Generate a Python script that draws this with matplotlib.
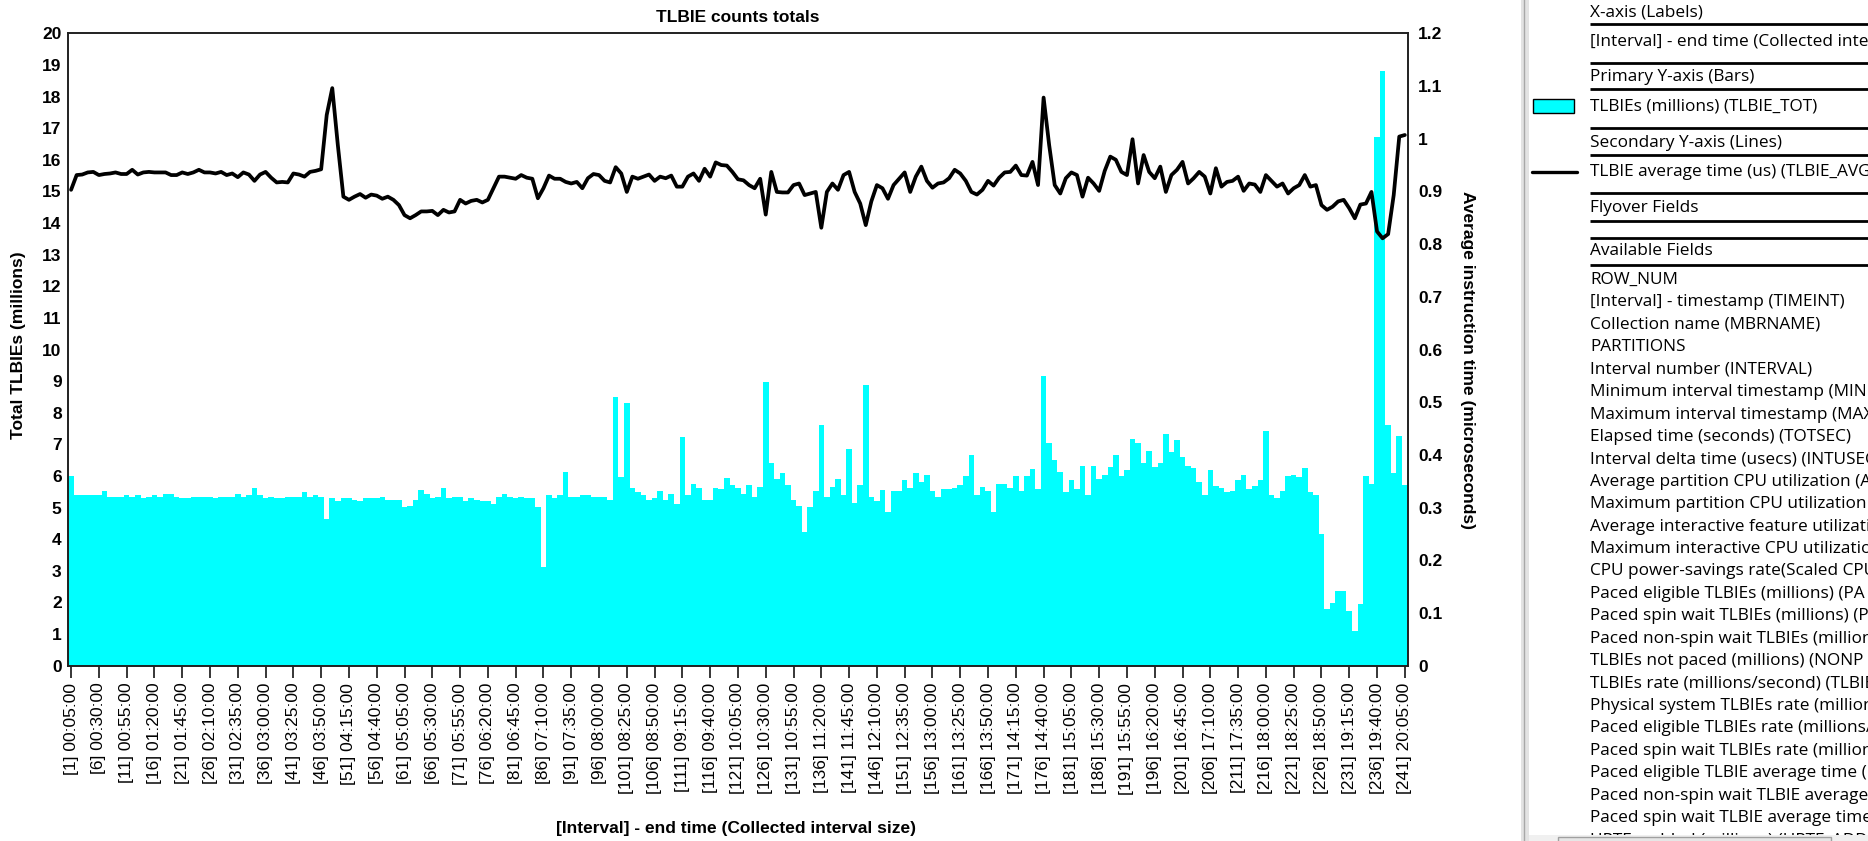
import numpy as np
import matplotlib
matplotlib.use("Agg")
import matplotlib.pyplot as plt
from matplotlib.patches import Rectangle

# ---------------- data ----------------
intervals = list(range(1, 242))

tlbie_tot = [
    6.00, 5.39, 5.39, 5.39, 5.39, 5.39, 5.52, 5.34, 5.34, 5.34,
    5.39, 5.34, 5.39, 5.29, 5.34, 5.39, 5.34, 5.43, 5.43, 5.34,
    5.29, 5.29, 5.34, 5.34, 5.34, 5.34, 5.29, 5.34, 5.34, 5.34,
    5.43, 5.34, 5.39, 5.62, 5.39, 5.29, 5.34, 5.29, 5.29, 5.34,
    5.34, 5.34, 5.48, 5.34, 5.39, 5.34, 4.64, 5.29, 5.20, 5.29,
    5.29, 5.24, 5.20, 5.29, 5.29, 5.29, 5.34, 5.24, 5.24, 5.24,
    5.03, 5.06, 5.24, 5.57, 5.43, 5.29, 5.34, 5.62, 5.29, 5.34,
    5.34, 5.20, 5.29, 5.24, 5.20, 5.20, 5.10, 5.34, 5.43, 5.34,
    5.29, 5.34, 5.29, 5.29, 5.02, 3.13, 5.39, 5.29, 5.39, 6.14,
    5.34, 5.34, 5.39, 5.39, 5.34, 5.34, 5.34, 5.25, 8.49, 5.96,
    8.30, 5.62, 5.48, 5.39, 5.25, 5.29, 5.52, 5.25, 5.43, 5.10,
    7.22, 5.39, 5.76, 5.62, 5.25, 5.25, 5.62, 5.58, 5.94, 5.70,
    5.62, 5.43, 5.70, 5.34, 5.66, 8.96, 6.42, 5.92, 6.08, 5.70,
    5.25, 5.06, 4.22, 5.02, 5.52, 7.60, 5.34, 5.66, 5.90, 5.39,
    6.84, 5.16, 5.70, 8.87, 5.34, 5.20, 5.57, 4.87, 5.52, 5.52,
    5.86, 5.62, 6.08, 5.80, 6.04, 5.52, 5.34, 5.58, 5.58, 5.62,
    5.70, 5.99, 6.65, 5.39, 5.66, 5.52, 4.87, 5.76, 5.76, 5.62,
    5.99, 5.52, 5.99, 6.22, 5.58, 9.15, 7.03, 6.52, 6.14, 5.48,
    5.86, 5.58, 6.33, 5.39, 6.33, 5.92, 6.04, 6.27, 6.65, 5.99,
    6.19, 7.18, 7.03, 6.42, 6.80, 6.28, 6.42, 7.33, 6.76, 7.13,
    6.61, 6.33, 6.24, 5.81, 5.39, 6.19, 5.67, 5.63, 5.48, 5.52,
    5.86, 6.04, 5.58, 5.67, 5.86, 7.41, 5.39, 5.30, 5.52, 5.99,
    6.04, 5.96, 6.24, 5.48, 5.39, 4.17, 1.80, 1.99, 2.37, 2.37,
    1.72, 1.11, 1.94, 5.99, 5.76, 16.73, 18.81, 7.60, 6.09, 7.26,
    5.71,
]

tlbie_avg = [
    0.903, 0.931, 0.932, 0.936, 0.937, 0.931, 0.933, 0.934, 0.936, 0.933,
    0.933, 0.941, 0.932, 0.936, 0.937, 0.936, 0.936, 0.936, 0.931, 0.931,
    0.936, 0.933, 0.936, 0.941, 0.936, 0.936, 0.934, 0.937, 0.931, 0.934,
    0.927, 0.936, 0.932, 0.920, 0.932, 0.937, 0.926, 0.917, 0.918, 0.917,
    0.934, 0.932, 0.928, 0.937, 0.939, 0.942, 1.045, 1.096, 0.988, 0.890,
    0.884, 0.890, 0.895, 0.888, 0.894, 0.892, 0.886, 0.890, 0.884, 0.874,
    0.855, 0.849, 0.855, 0.862, 0.862, 0.863, 0.855, 0.865, 0.860, 0.862,
    0.884, 0.877, 0.882, 0.884, 0.879, 0.884, 0.906, 0.928, 0.928, 0.926,
    0.924, 0.931, 0.926, 0.924, 0.887, 0.906, 0.930, 0.924, 0.924, 0.918,
    0.915, 0.918, 0.906, 0.925, 0.933, 0.931, 0.920, 0.917, 0.946, 0.934,
    0.899, 0.928, 0.924, 0.928, 0.932, 0.920, 0.928, 0.925, 0.930, 0.909,
    0.909, 0.928, 0.934, 0.920, 0.943, 0.928, 0.955, 0.950, 0.949, 0.937,
    0.923, 0.921, 0.912, 0.906, 0.924, 0.856, 0.937, 0.899, 0.898, 0.898,
    0.912, 0.915, 0.893, 0.896, 0.899, 0.831, 0.899, 0.915, 0.903, 0.931,
    0.937, 0.899, 0.877, 0.836, 0.881, 0.912, 0.906, 0.886, 0.912, 0.924,
    0.936, 0.899, 0.928, 0.947, 0.920, 0.907, 0.915, 0.917, 0.925, 0.941,
    0.934, 0.920, 0.899, 0.894, 0.903, 0.920, 0.911, 0.926, 0.936, 0.937,
    0.949, 0.931, 0.930, 0.956, 0.912, 1.078, 0.988, 0.912, 0.896, 0.925,
    0.936, 0.931, 0.890, 0.926, 0.915, 0.901, 0.939, 0.966, 0.960, 0.937,
    0.931, 0.999, 0.915, 0.969, 0.937, 0.925, 0.947, 0.899, 0.931, 0.941,
    0.956, 0.915, 0.925, 0.937, 0.928, 0.896, 0.944, 0.909, 0.918, 0.920,
    0.928, 0.901, 0.915, 0.913, 0.899, 0.931, 0.920, 0.909, 0.915, 0.896,
    0.906, 0.912, 0.931, 0.909, 0.912, 0.874, 0.865, 0.871, 0.881, 0.884,
    0.868, 0.849, 0.875, 0.877, 0.899, 0.824, 0.811, 0.819, 0.893, 1.004,
    1.007,
]

tick_intervals = [1, 6, 11, 16, 21, 26, 31, 36, 41, 46, 51, 56, 61, 66, 71, 76,
                  81, 86, 91, 96, 101, 106, 111, 116, 121, 126, 131, 136, 141,
                  146, 151, 156, 161, 166, 171, 176, 181, 186, 191, 196, 201,
                  206, 211, 216, 221, 226, 231, 236, 241]
tick_labels = [
    "[1] 00:05:00", "[6] 00:30:00", "[11] 00:55:00", "[16] 01:20:00",
    "[21] 01:45:00", "[26] 02:10:00", "[31] 02:35:00", "[36] 03:00:00",
    "[41] 03:25:00", "[46] 03:50:00", "[51] 04:15:00", "[56] 04:40:00",
    "[61] 05:05:00", "[66] 05:30:00", "[71] 05:55:00", "[76] 06:20:00",
    "[81] 06:45:00", "[86] 07:10:00", "[91] 07:35:00", "[96] 08:00:00",
    "[101] 08:25:00", "[106] 08:50:00", "[111] 09:15:00", "[116] 09:40:00",
    "[121] 10:05:00", "[126] 10:30:00", "[131] 10:55:00", "[136] 11:20:00",
    "[141] 11:45:00", "[146] 12:10:00", "[151] 12:35:00", "[156] 13:00:00",
    "[161] 13:25:00", "[166] 13:50:00", "[171] 14:15:00", "[176] 14:40:00",
    "[181] 15:05:00", "[186] 15:30:00", "[191] 15:55:00", "[196] 16:20:00",
    "[201] 16:45:00", "[206] 17:10:00", "[211] 17:35:00", "[216] 18:00:00",
    "[221] 18:25:00", "[226] 18:50:00", "[231] 19:15:00", "[236] 19:40:00",
    "[241] 20:05:00",
]
left_ticks = list(range(0, 21))
right_ticks = [0, 0.1, 0.2, 0.3, 0.4, 0.5, 0.6, 0.7, 0.8, 0.9, 1.0, 1.1, 1.2]
right_tick_labels = ["0", "0.1", "0.2", "0.3", "0.4", "0.5", "0.6", "0.7",
                     "0.8", "0.9", "1", "1.1", "1.2"]

title = "TLBIE counts totals"
x_label = "[Interval] - end time (Collected interval size)"
y_label_left = "Total TLBIEs (millions)"
y_label_right = "Average instruction time (microseconds)"

panel_headers = [
    ("X-axis (Labels)", 12.0),
    ("[Interval] - end time (Collected interval size)", 41.0),
    ("Primary Y-axis (Bars)", 76.7),
    ("TLBIEs (millions) (TLBIE_TOT)", 106.5),
    ("Secondary Y-axis (Lines)", 142.7),
    ("TLBIE average time (us) (TLBIE_AVG)", 172.0),
    ("Flyover Fields", 207.7),
    ("Available Fields", 250.7),
]
panel_rules = [24.3, 62.7, 89.3, 128.3, 155.0, 193.3, 221.0, 237.7, 265.0]
available_fields = [
    "ROW_NUM",
    "[Interval] - timestamp (TIMEINT)",
    "Collection name (MBRNAME)",
    "PARTITIONS",
    "Interval number (INTERVAL)",
    "Minimum interval timestamp (MINI",
    "Maximum interval timestamp (MAX",
    "Elapsed time (seconds) (TOTSEC)",
    "Interval delta time (usecs) (INTUSEC",
    "Average partition CPU utilization (A",
    "Maximum partition CPU utilization (",
    "Average interactive feature utilizatio",
    "Maximum interactive CPU utilizatio",
    "CPU power-savings rate(Scaled CPU",
    "Paced eligible TLBIEs (millions) (PA",
    "Paced spin wait TLBIEs (millions) (P",
    "Paced non-spin wait TLBIEs (million",
    "TLBIEs not paced (millions) (NONP",
    "TLBIEs rate (millions/second) (TLBIE",
    "Physical system TLBIEs rate (million",
    "Paced eligible TLBIEs rate (millions/",
    "Paced spin wait TLBIEs rate (million",
    "Paced eligible TLBIE average time (u",
    "Paced non-spin wait TLBIE average",
    "Paced spin wait TLBIE average time",
    "HPTEs added (millions) (HPTE_ADD",
]

# ---------------- figure ----------------
W, H = 1868, 841
fig = plt.figure(figsize=(W / 100, H / 100), dpi=100)
fig.patch.set_facecolor("white")

CHART_FONT = ["Liberation Sans", "DejaVu Sans"]
FS = 12.5

L, R, T, B = 68.3, 1407.6, 33.3, 665.7
ax = fig.add_axes([L / W, 1 - B / H, (R - L) / W, (B - T) / H])
ax.bar(intervals, tlbie_tot, width=1.0, color="#00FFFF", linewidth=0, align="center")
ax.set_xlim(0.5, 241.5)
ax.set_ylim(0, 20)
ax.set_yticks(left_ticks)
ax.set_yticklabels([str(v) for v in left_ticks], family=CHART_FONT,
                   fontsize=FS, fontweight="bold")
ax.set_xticks(tick_intervals)
ax.set_xticklabels(tick_labels, rotation=90, family=CHART_FONT, fontsize=FS,
                   va="top", ha="center")
ax.tick_params(axis="x", length=8.6, width=1.1, direction="out", pad=3.6,
               colors="black")
ax.tick_params(axis="y", length=0, pad=4.8)

ax2 = ax.twinx()
ax2.plot(intervals, tlbie_avg, color="black", lw=2.7, solid_joinstyle="round",
         solid_capstyle="round")
ax2.set_ylim(0, 1.2)
ax2.set_yticks(right_ticks)
ax2.set_yticklabels(right_tick_labels, family=CHART_FONT, fontsize=FS,
                    fontweight="bold")
ax2.tick_params(axis="y", length=0, pad=7.5)
ax2.set_xlim(0.5, 241.5)

for a in (ax, ax2):
    for s in a.spines.values():
        s.set_linewidth(1.2)
        s.set_color("#202020")

fig.text(737.5 / W, 1 - 17.5 / H, title, ha="center", va="center",
         family=CHART_FONT, fontsize=FS, fontweight="bold")
fig.text(736 / W, 1 - 828 / H, x_label, ha="center", va="center",
         family=CHART_FONT, fontsize=FS, fontweight="bold")
fig.text(19 / W, 1 - 345 / H, y_label_left, ha="center", va="center",
         rotation=90, family=CHART_FONT, fontsize=FS, fontweight="bold")
fig.text(1468 / W, 1 - 360 / H, y_label_right, ha="center", va="center",
         rotation=270, family=CHART_FONT, fontsize=FS, fontweight="bold")

# ---------------- right side panel ----------------
ov = fig.add_axes([0, 0, 1, 1])
ov.set_xlim(0, W)
ov.set_ylim(H, 0)
ov.axis("off")
ov.patch.set_alpha(0)

PANEL_FONT = ["Open Sans", "DejaVu Sans"]
probe = fig.text(0, 0, "Elapsed time (seconds) (TOTSEC)", fontsize=12,
                 family=PANEL_FONT)
fig.canvas.draw()
pw = probe.get_window_extent().width
probe.remove()
PFS = 12 * 259.0 / pw

# separator
ov.add_patch(Rectangle((1520.5, 0), 8, H, facecolor="#e3e3e3", edgecolor="none"))
ov.plot([1523.5, 1523.5], [0, H], color="#a8a8a8", lw=1.0)

TX = 1590
for txt, y in panel_headers:
    ov.text(TX, y, txt, ha="left", va="center", family=PANEL_FONT, fontsize=PFS,
            color="black")
for y in panel_rules:
    ov.plot([TX, W + 5], [y, y], color="black", lw=2.0, solid_capstyle="butt")

for i, txt in enumerate(available_fields):
    ov.text(TX, 280 + 22.42 * i, txt, ha="left", va="center", family=PANEL_FONT,
            fontsize=PFS, color="black", zorder=3)

# legend swatches
ov.add_patch(Rectangle((1533, 98.5), 41, 14.5, facecolor="#00FFFF",
                       edgecolor="black", lw=1.0))
ov.plot([1532, 1577], [171.7, 171.7], color="black", lw=2.4,
        solid_capstyle="round")

# bottom scrollbar (covers the partially visible last row)
ov.add_patch(Rectangle((1528.5, 835), W - 1528.5, 8, facecolor="#f0f0f0",
                       edgecolor="none", zorder=5))
ov.add_patch(Rectangle((1558, 837), 273, 8, facecolor="#e6e6e6",
                       edgecolor="#a0a0a0", lw=1.0, zorder=6))

fig.savefig("out.png", dpi=100)
